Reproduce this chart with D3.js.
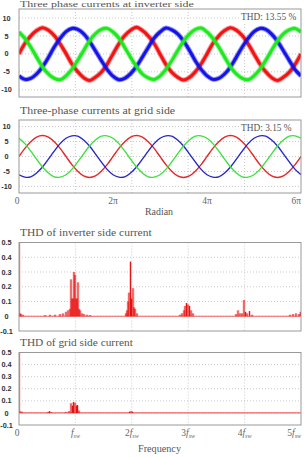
<!DOCTYPE html>
<html>
<head>
<meta charset="utf-8">
<script src="https://cdn.jsdelivr.net/npm/d3@7"></script>
<style>
  body { margin: 0; background: #fff; }
  svg { display: block; }
</style>
</head>
<body>
<div class="chart"></div>
<script>
// samples every pi/8 over 0..6pi
const invRed = [0, 2.9, 5.0, 6.5, 7.3, 6.6, 5.1, 2.8, 0.1, -2.8, -5.0, -6.6, -7.4, -6.5, -5.1, -2.9,
  0, 2.8, 5.1, 6.6, 7.4, 6.5, 5.0, 2.9, 0, -2.9, -5.1, -6.5, -7.3, -6.6, -5.0, -2.8,
  0, 2.9, 5.0, 6.5, 7.3, 6.6, 5.1, 2.8, 0, -2.8, -5.0, -6.6, -7.4, -6.5, -5.1, -2.9, 0];
const invBlue = [-6.1, -7.1, -6.8, -5.6, -3.6, -1.0, 1.9, 4.3, 6.2, 7.1, 6.8, 5.6, 3.5, 0.9, -1.8, -4.3,
  -6.2, -7.2, -6.8, -5.5, -3.5, -0.9, 1.8, 4.4, 6.1, 7.2, 6.7, 5.6, 3.6, 1.0, -1.9, -4.3,
  -6.1, -7.1, -6.8, -5.6, -3.6, -0.9, 1.9, 4.3, 6.2, 7.1, 6.8, 5.5, 3.5, 0.9, -1.8, -4.4, -6.1];
const invGreen = [6.1, 4.3, 1.9, -0.9, -3.6, -5.6, -6.8, -7.2, -6.1, -4.3, -1.8, 0.9, 3.6, 5.6, 6.8, 7.1,
  6.1, 4.4, 1.8, -1.0, -3.5, -5.6, -6.7, -7.1, -6.2, -4.3, -1.9, 0.9, 3.5, 5.5, 6.8, 7.2,
  6.1, 4.3, 1.9, -0.9, -3.6, -5.6, -6.8, -7.2, -6.1, -4.3, -1.8, 1.0, 3.6, 5.6, 6.7, 7.1, 6.1];

const gridRed = [0, 2.7, 4.9, 6.5, 7.0, 6.5, 4.9, 2.7, 0, -2.7, -4.9, -6.5, -7.0, -6.5, -4.9, -2.7,
  0, 2.7, 4.9, 6.5, 7.0, 6.5, 4.9, 2.7, 0, -2.7, -4.9, -6.5, -7.0, -6.5, -4.9, -2.7,
  0, 2.7, 4.9, 6.5, 7.0, 6.5, 4.9, 2.7, 0, -2.7, -4.9, -6.5, -7.0, -6.5, -4.9, -2.7, 0];
const gridBlue = [-6.1, -6.9, -6.8, -5.5, -3.5, -0.9, 1.8, 4.3, 6.1, 6.9, 6.8, 5.5, 3.5, 0.9, -1.8, -4.3,
  -6.1, -6.9, -6.8, -5.5, -3.5, -0.9, 1.8, 4.3, 6.1, 6.9, 6.8, 5.5, 3.5, 0.9, -1.8, -4.3,
  -6.1, -6.9, -6.8, -5.5, -3.5, -0.9, 1.8, 4.3, 6.1, 6.9, 6.8, 5.5, 3.5, 0.9, -1.8, -4.3, -6.1];
const gridGreen = [6.1, 4.3, 1.8, -0.9, -3.5, -5.5, -6.8, -6.9, -6.1, -4.3, -1.8, 0.9, 3.5, 5.5, 6.8, 6.9,
  6.1, 4.3, 1.8, -0.9, -3.5, -5.5, -6.8, -6.9, -6.1, -4.3, -1.8, 0.9, 3.5, 5.5, 6.8, 6.9,
  6.1, 4.3, 1.8, -0.9, -3.5, -5.5, -6.8, -6.9, -6.1, -4.3, -1.8, 0.9, 3.5, 5.5, 6.8, 6.9, 6.1];

// harmonic spectra: position in multiples of f_sw, magnitude
const invFreq = [0, 0.018, 0.035, 0.071, 0.461, 0.55, 0.638, 0.727, 0.78, 0.833, 0.869, 0.904,
  0.922, 0.94, 0.957, 0.975, 0.993, 1.011, 1.028, 1.046, 1.064, 1.082, 1.117, 1.152, 1.206, 1.259,
  1.897, 1.915, 1.933, 1.95, 1.977, 1.995, 2.021, 2.039, 2.057, 2.092,
  2.855, 2.89, 2.926, 2.943, 2.97, 2.996, 3.023, 3.05, 3.085,
  3.848, 3.883, 3.918, 3.954, 3.989, 4.016, 4.043, 4.087, 4.131,
  4.805, 4.858, 4.911, 4.965, 4.99];
const invMag = [1.0, 0.02, 0.015, 0.01, 0.008, 0.01, 0.01, 0.015, 0.02, 0.03, 0.04, 0.05,
  0.25, 0.12, 0.12, 0.30, 0.28, 0.12, 0.12, 0.23, 0.05, 0.04, 0.02, 0.015, 0.01, 0.008,
  0.02, 0.04, 0.10, 0.16, 0.37, 0.12, 0.19, 0.06, 0.05, 0.02,
  0.01, 0.02, 0.04, 0.07, 0.09, 0.08, 0.07, 0.04, 0.02,
  0.015, 0.04, 0.02, 0.02, 0.11, 0.03, 0.02, 0.035, 0.01,
  0.01, 0.015, 0.02, 0.015, 0.03];

const gridFreq = [0, 0.018, 0.053, 0.514, 0.54, 0.567, 0.833, 0.887, 0.922, 0.949, 0.966, 0.993,
  1.02, 1.037, 1.064, 1.959, 1.986, 2.012];
const gridMag = [1.0, 0.015, 0.01, 0.008, 0.015, 0.008, 0.008, 0.015, 0.08, 0.06, 0.09, 0.085,
  0.06, 0.065, 0.02, 0.01, 0.015, 0.01];

const currentTicks = [10, 5, 0, -5, -10];
const thdTicks = [0.5, 0.4, 0.3, 0.2, 0.1, 0, -0.1];
const radianLabels = ["0", "2\u03c0", "4\u03c0", "6\u03c0"];
const freqLabels = ["0", "", "2", "3", "4", "5"];

const W = 306, H = 457;
const left = 19, right = 301;

const svg = d3.select(".chart").append("svg")
    .attr("width", W)
    .attr("height", H);

const txtFont = "'Liberation Serif', 'DejaVu Serif', serif";
const tickFont = "'Liberation Sans', Arial, sans-serif";

function title(str, y, size) {
    svg.append("text")
        .attr("x", 20)
        .attr("y", y)
        .attr("font-family", txtFont)
        .attr("font-size", (size || 9.5) + "px")
        .attr("fill", "#555")
        .attr("textLength", str.length * 4.7)
        .attr("lengthAdjust", "spacingAndGlyphs")
        .text(str);
}

function panel(id, yRange, yDomain, ticks, xDomain, vLines) {
    const x = d3.scaleLinear().domain(xDomain).range([left, right]);
    const y = d3.scaleLinear().domain(yDomain).range(yRange);
    const g = svg.append("g");

    svg.append("clipPath").attr("id", id)
        .append("rect")
        .attr("x", left).attr("y", yRange[1])
        .attr("width", right - left).attr("height", yRange[0] - yRange[1]);

    // horizontal grid
    g.selectAll(".hg").data(ticks.filter(t => y(t) > yRange[1] + 1 && y(t) < yRange[0] - 1))
        .enter().append("line")
        .attr("x1", left).attr("x2", right)
        .attr("y1", d => y(d)).attr("y2", d => y(d))
        .attr("stroke", "#bbb").attr("stroke-width", 0.8)
        .attr("stroke-dasharray", "1,2");

    // vertical grid
    g.selectAll(".vg").data(vLines)
        .enter().append("line")
        .attr("x1", d => x(d)).attr("x2", d => x(d))
        .attr("y1", yRange[1]).attr("y2", yRange[0])
        .attr("stroke", "#bbb").attr("stroke-width", 0.8)
        .attr("stroke-dasharray", "1,2");

    // y tick labels
    g.selectAll(".yl").data(ticks)
        .enter().append("text")
        .attr("x", 6.5)
        .attr("y", d => y(d) + 2.6)
        .attr("text-anchor", "middle")
        .attr("font-family", tickFont)
        .attr("font-weight", "bold")
        .attr("font-size", "7.3px")
        .attr("fill", "#333")
        .text(d => d);

    const plot = svg.append("g").attr("clip-path", `url(#${id})`);

    const frame = svg.append("rect")
        .attr("x", left).attr("y", yRange[1])
        .attr("width", right - left).attr("height", yRange[0] - yRange[1])
        .attr("fill", "none")
        .attr("stroke", "#999")
        .attr("stroke-width", 1);

    return {x, y, plot, frame};
}

const sixPi = 6 * Math.PI;
const angle = d3.range(49).map(i => i * Math.PI / 8);
const radGrid = [1, 2, 3, 4].map(k => k * sixPi / 5);

function drawWaves(p, series, width, glow) {
    const line = d3.line()
        .x((d, i) => p.x(angle[i]))
        .y(d => p.y(d))
        .curve(d3.curveCatmullRom);
    series.forEach(s => {
        if (glow) {
            p.plot.append("path")
                .attr("d", line(s.values))
                .attr("fill", "none")
                .attr("stroke", s.color)
                .attr("stroke-opacity", 0.45)
                .attr("stroke-width", width + 2);
        }
        p.plot.append("path")
            .attr("d", line(s.values))
            .attr("fill", "none")
            .attr("stroke", s.color)
            .attr("stroke-width", width);
    });
}

function thdLabel(str, y) {
    svg.append("rect")
        .attr("x", 239).attr("y", y - 8)
        .attr("width", 60).attr("height", 10)
        .attr("fill", "#fff");
    svg.append("text")
        .attr("x", 241)
        .attr("y", y)
        .attr("font-family", txtFont)
        .attr("font-size", "9.5px")
        .attr("fill", "#555")
        .attr("textLength", str.length * 4.6)
        .attr("lengthAdjust", "spacingAndGlyphs")
        .text(str);
}

// ---- panel 1: inverter side currents
title("Three phase currents at inverter side", 6.5, 8.5);
const p1 = panel("c1", [97, 9], [-12, 12.5], currentTicks, [0, sixPi], radGrid);
drawWaves(p1, [
    {values: invRed, color: "#f01414"},
    {values: invBlue, color: "#1414e6"},
    {values: invGreen, color: "#1ee81e"}
], 3, true);
thdLabel("THD: 13.55 %", 20);

// ---- panel 2: grid side currents
title("Three-phase currents at grid side", 114);
const p2 = panel("c2", [193, 120], [-12.2, 12.2], currentTicks, [0, sixPi], radGrid);
drawWaves(p2, [
    {values: gridRed, color: "#e42828"},
    {values: gridBlue, color: "#2828c8"},
    {values: gridGreen, color: "#3ee03e"}
], 1.4, false);
thdLabel("THD: 3.15 %", 130.5);

// radian axis labels
svg.selectAll(".rl").data(radianLabels)
    .enter().append("text")
    .attr("class", "rl")
    .attr("x", (d, i) => i === 0 ? p2.x(0) - 2 : i === 3 ? right : p2.x(i * 2 * Math.PI))
    .attr("y", 204)
    .attr("text-anchor", (d, i) => i === 3 ? "end" : "middle")
    .attr("font-family", txtFont)
    .attr("font-size", "9.5px")
    .attr("fill", "#666")
    .text(d => d);

svg.append("text")
    .attr("x", 159).attr("y", 214.5)
    .attr("text-anchor", "middle")
    .attr("font-family", txtFont)
    .attr("font-size", "9.5px")
    .attr("fill", "#555")
    .attr("textLength", 28)
    .attr("lengthAdjust", "spacingAndGlyphs")
    .text("Radian");

// ---- spectra
function drawSpectrum(p, freq, mag) {
    const pts = freq.map((f, i) => ({f, m: mag[i]}));
    // baseline
    p.plot.append("line")
        .attr("x1", left).attr("x2", right)
        .attr("y1", p.y(0)).attr("y2", p.y(0))
        .attr("stroke", "#f06060").attr("stroke-width", 1.2);
    p.plot.selectAll(".halo").data(pts)
        .enter().append("rect")
        .attr("x", d => p.x(d.f) - 1.5)
        .attr("width", 3)
        .attr("y", d => p.y(d.m))
        .attr("height", d => p.y(0) - p.y(d.m))
        .attr("fill", "#ff6060")
        .attr("fill-opacity", 0.35);
    p.plot.selectAll(".spike").data(pts)
        .enter().append("line")
        .attr("x1", d => p.x(d.f)).attr("x2", d => p.x(d.f))
        .attr("y1", p.y(0))
        .attr("y2", d => p.y(d.m))
        .attr("stroke", "#e00000")
        .attr("stroke-width", 0.9);
}

title("THD of inverter side current", 236);
const p3 = panel("c3", [331, 242.5], [-0.1, 0.5], thdTicks, [0, 5], [1, 2, 3, 4]);
drawSpectrum(p3, invFreq, invMag);

title("THD of grid side current", 346);
const p4 = panel("c4", [425, 352.5], [-0.1, 0.5], thdTicks, [0, 5], [1, 2, 3, 4]);
drawSpectrum(p4, gridFreq, gridMag);

// frequency axis labels
svg.append("text")
    .attr("x", p4.x(0) - 2)
    .attr("y", 436)
    .attr("text-anchor", "middle")
    .attr("font-family", txtFont)
    .attr("font-size", "9.5px")
    .attr("fill", "#666")
    .text(freqLabels[0]);

freqLabels.slice(1).forEach((d, k) => {
    const i = k + 1;
    const t = svg.append("text")
        .attr("x", i === 5 ? right : p4.x(i))
        .attr("y", 436)
        .attr("text-anchor", i === 5 ? "end" : "middle")
        .attr("font-family", txtFont)
        .attr("font-size", "9.5px")
        .attr("fill", "#666");
    if (d) t.append("tspan").text(d);
    t.append("tspan").attr("font-style", "italic").text("f");
    t.append("tspan").attr("font-style", "italic").attr("font-size", "6px").attr("dy", 1.5).text("sw");
});

svg.append("text")
    .attr("x", 159.5).attr("y", 451.5)
    .attr("text-anchor", "middle")
    .attr("font-family", txtFont)
    .attr("font-size", "9.5px")
    .attr("fill", "#555")
    .attr("textLength", 43)
    .attr("lengthAdjust", "spacingAndGlyphs")
    .text("Frequency");
</script>
</body>
</html>
